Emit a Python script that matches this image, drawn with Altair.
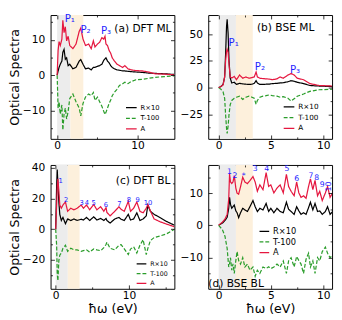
import json
import altair as alt
import pandas as pd

FONT = "DejaVu Sans"
W, H = 128, 128
NAMES = ["R×10", "T-100", "A"]
LINE_COLORS = ["#000000", "#2a9d2a", "#e5173f"]
DASHES = [[1, 0], [4, 2], [1, 0]]
BLUE = "#1f1fff"

BAND_NAMES = ["ir", "vis"]
BAND_LO = [0.0, 1.65]
BAND_HI = [1.65, 3.26]
BAND_COLORS = ["#ececec", "#fdf0dc"]

# ---------------- (a) DFT ML ----------------
E_a = [0.00, 0.12, 0.24, 0.39, 0.59, 0.71, 0.86, 1.02, 1.18, 1.37, 1.57, 1.96, 2.35, 2.75, 2.94,
       3.22, 3.53, 3.92, 4.24, 4.51, 4.71, 5.02, 5.29, 5.57, 5.80, 5.96, 6.08, 6.27, 6.47, 6.67,
       6.86, 7.14, 7.45, 7.76, 8.16, 8.43, 8.82, 9.22, 9.80, 10.59, 11.37, 12.16, 13.33, 14.59]
A_a = [0, 7, 9.5, 8.4, 10.2, 15.5, 12, 13.7, 9.7, 11, 8.4, 7.5, 8.8, 12.4, 13.3,
       10.2, 8.4, 8.8, 7.5, 9.7, 8, 8.8, 9.3, 10.6, 10.2, 11, 8.8, 8.4, 7, 6.2,
       4.9, 4, 3.1, 2.7, 2.2, 2.7, 1.8, 1.5, 1.3, 1.2, 0.9, 0.4, 0.3, 0.1]
R_a = [0, 1.2, 2.2, 3.1, 4, 6.5, 7.3, 4.5, 4.9, 2.7, 3.1, 1.8, 2.2, 4, 4.4,
       3.1, 1.8, 2, 1.5, 2.2, 2.2, 2.5, 2.7, 3.1, 4.2, 4.6, 4.9, 4, 3.5, 2.7,
       2.2, 1.8, 1.5, 1.4, 1.2, 1.2, 1.1, 1.0, 0.9, 0.8, 0.6, 0.5, 0.4, 0.2]
T_a = [0, -9.3, -7.5, -11, -8.4, -15.5, -11, -9.3, -12.4, -10.2, -6.6, -5.3, -7.5, -9.3, -11.5,
       -8, -6.2, -5.3, -5.8, -4.9, -7.1, -6.2, -7.5, -8.8, -10.2, -11.1, -10.5, -9.3, -8, -7,
       -5.8, -4.8, -4, -2.9, -2.4, -2, -2.4, -1.8, -1.3, -1.2, -0.9, -0.6, -0.4, -0.2]
PK_a_x = [1.57, 3.53, 6.08]
PK_a_y = [15.9, 12.7, 12.4]
PK_a_t = ["P₁", "P₂", "P₃"]

# ---------------- (b) BSE ML ----------------
E_b = [0, 0.21, 0.42, 0.57, 0.66, 0.75, 0.81, 0.90, 0.99, 1.10, 1.25, 1.49, 1.70, 2.00, 2.30,
       2.60, 2.90, 3.19, 3.40, 3.58, 3.70, 3.94, 4.24, 4.54, 4.84, 5.13, 5.58, 5.88, 6.18, 6.63,
       6.93, 7.22, 7.52, 8.12, 8.72, 9.61, 10.85]
R_b = [0, 1, 3, 10, 31, 57, 64, 51, 25, 9, 4.4, 5, 3, 4, 3.5,
       3.2, 3, 3.2, 4, 6.5, 4.4, 3, 3, 3.2, 3.2, 3.8, 4, 4.4, 4.6, 5.5,
       6.5, 6, 5, 3.8, 2, 1.5, 1]
A_b = [0, 1, 2.5, 10, 25, 34, 36, 33, 22, 10, 9, 10.5, 7.4, 11.8, 8.8,
       10, 8.8, 9.4, 10, 14.7, 10, 8.8, 8.5, 8.2, 8, 7.4, 8.2, 10, 8.8, 11.8,
       13.2, 11.8, 8.8, 7.4, 3.8, 2, 1.5]
T_b = [0, -1.5, -4, -10, -25, -38, -43, -36, -25, -16, -12, -10, -9, -8, -11,
       -9, -8, -9, -10, -15.6, -12, -9, -8, -7.5, -6.8, -7.5, -8, -9, -8.5, -10,
       -12.6, -10.5, -8, -6, -3.5, -2, -1.5]
PK_b_x = [1.43, 3.94, 7.31]
PK_b_y = [41.8, 19.7, 16.8]
PK_b_t = ["P₁", "P₂", "P₃"]

# ---------------- (c) DFT BL ----------------
E_c = [0, 0.13, 0.21, 0.30, 0.43, 0.56, 0.77, 0.99, 1.33, 1.63, 2.06, 2.49, 2.92, 3.48, 3.78,
       4.21, 4.64, 5.19, 5.62, 6.14, 6.57, 6.87, 6.99, 7.42, 8.07, 8.63, 8.93, 9.36, 9.91, 10.21,
       10.64, 11.07, 11.50, 11.93, 12.36, 12.58, 12.92, 13.43, 14.29, 15.15, 16.2]
R_c = [0, 28, 39, 30, 18, 9.7, 5.7, 7.7, 3.6, 6.7, 5.7, 6.7, 5.7, 6.5, 6,
       7.7, 5.7, 8.1, 6, 7, 5.7, 7, 5.7, 4, 6.7, 7.7, 6.5, 5.7, 9.7, 6,
       6.7, 10.7, 5.7, 6.7, 8.7, 15.8, 11.7, 9.7, 7.5, 5, 2.6]
A_c = [0, 15.8, 28, 33, 25, 15.8, 13.7, 15.8, 17.8, 11.7, 13.7, 12.7, 13.7, 15.8, 13.7,
       15.8, 12.7, 16.2, 12.7, 14.7, 11.7, 14.1, 11, 8.7, 11.7, 14.7, 13, 11.7, 18.2, 11.7,
       13.7, 17.8, 11.7, 10.7, 13.7, 16.2, 12, 6.7, 4.8, 3.3, 1.6]
T_c = [0, -10.5, -28.7, -33.7, -20.6, -17, -15.6, -12.5, -10.5, -14.5, -12.5, -13.5, -13.5, -14.5, -14,
       -13.5, -15, -12.9, -13.5, -14.1, -12.1, -10, -8.5, -12.5, -13.5, -10.5, -10.1, -12.9, -16.6, -13,
       -11.5, -15.6, -10.5, -6.9, -16.6, -12.5, -7.5, -5.5, -4.4, -3, 0]
PK_c_x = [0.69, 1.42, 3.56, 4.25, 5.19, 6.87, 8.71, 10.0, 11.2, 12.6]
PK_c_y = [31.5, 18.8, 16.8, 16.8, 16.8, 15.8, 16.2, 18.8, 18.8, 17.4]
PK_c_t = ["1", "2", "3", "4", "5", "6", "7", "8", "9", "10"]

# ---------------- (d) BSE BL ----------------
E_d = [0, 0.36, 0.60, 0.81, 0.96, 1.04, 1.13, 1.25, 1.37, 1.49, 1.64, 1.76, 1.91, 2.09, 2.30,
       2.51, 2.75, 2.99, 3.28, 3.49, 3.70, 3.94, 4.24, 4.54, 4.78, 4.99, 5.28, 5.58, 5.88, 6.18,
       6.48, 6.69, 6.93, 7.22, 7.46, 7.67, 7.88, 8.12, 8.36, 8.60, 8.78, 9.01, 9.22, 9.46, 9.67,
       9.91, 10.21, 10.42, 10.66, 10.9]
R_d = [0, 0.7, 1.5, 2.5, 5.3, 8.7, 6.5, 5.3, 5.8, 6.3, 4.5, 3.9, 2.4, 3.9, 5.3,
       4.8, 4.3, 5.8, 7.7, 5.8, 4.3, 5.3, 4.8, 6.8, 4.3, 5.3, 3.9, 5.3, 4.3, 3.9,
       7.2, 5, 4.3, 3.4, 5.8, 4.5, 3.4, 3.9, 3.4, 5.5, 7.2, 4.8, 6.8, 4.3, 4.5,
       3.4, 4.3, 5.8, 3.4, 4.3]
A_d = [0, 1.0, 1.9, 3.4, 8.2, 16, 13.5, 13, 13.5, 15.5, 11.6, 10, 9.7, 12, 15,
       13.5, 13, 13.9, 15.2, 13.5, 10.6, 12.6, 11.1, 16.4, 12.1, 12.6, 10.1, 11.6, 12.6, 10.1,
       15.9, 12.1, 10.6, 9.2, 13.5, 10.1, 8.7, 9.2, 8.4, 12.1, 14.5, 11.1, 14, 9.2, 10.6,
       7.7, 10.1, 12.1, 8.7, 10.1]
T_d = [0, -1.4, -3.4, -7.2, -13, -12, -10.1, -14, -12, -15, -11, -8.2, -11, -12.1, -10.1,
       -13, -12.1, -14, -13, -15.9, -14, -15, -13, -13.5, -12.9, -13.5, -13, -12.1, -13, -11.1,
       -15, -11.1, -10.1, -13, -9.7, -11, -12.1, -15, -10.6, -8.7, -13, -11.1, -15, -10.1, -11.1,
       -8.2, -6.8, -8.7, -10.1, -9.2]
PK_d_x = [1.04, 1.55, 2.39, 3.49, 4.6, 6.54, 7.46, 8.84, 9.37, 9.91, 10.57]
PK_d_y = [16.7, 15.2, 15.3, 17.4, 17.6, 17.4, 14.5, 15.3, 14.8, 12.6, 12.1]
PK_d_t = ["1", "2", "*", "3", "4", "5", "6", "7", "8", "9", "10"]
PK_d_a = [0, 0, 0, 0, 0, 0, 0, 0, 0, 0, 270]

band_df = pd.DataFrame({"band": BAND_NAMES, "b0": BAND_LO, "b1": BAND_HI})


def mk_axis(orient, majors, minors, labels, title=None, pad=1, tpad=2):
    maj = json.dumps(majors)
    kw = dict(
        orient=orient, values=sorted(majors + minors), offset=-4, tickSize=4,
        tickWidth=0.8, tickColor="black", domain=False, grid=False, zindex=1,
        labels=labels, format="d",
        labelExpr=f"indexof({maj}, datum.value) >= 0 ? datum.label : ''",
        tickDash={"condition": {"test": f"indexof({maj}, datum.value) < 0", "value": [0, 2, 2]},
                  "value": [4, 0]},
        labelFont=FONT, labelFontSize=11, labelColor="black", labelOverlap=False,
        labelPadding=pad,
    )
    if title:
        kw.update(title=title, titleFont=FONT, titleFontSize=13, titleFontWeight="normal",
                  titleColor="black", titlePadding=tpad)
    else:
        kw["title"] = None
    return alt.Axis(**kw)


def panel(E, R, T, A, xdom, ydom, xmaj, xmin, ymaj, ymin, pk, pk_size, title, tx, ty, talign,
          leg, first_col, last_row):
    n = len(E)
    df = pd.DataFrame({"E": list(E) * 3, "v": list(R) + list(T) + list(A),
                       "s": [NAMES[0]] * n + [NAMES[1]] * n + [NAMES[2]] * n,
                       "o": [0] * n + [1] * n + [2] * n})
    xs = alt.Scale(domain=xdom, nice=False, zero=False)
    ys = alt.Scale(domain=ydom, nice=False, zero=False)

    bands = alt.Chart(band_df).mark_rect().encode(
        x=alt.X("b0:Q", scale=xs,
                axis=mk_axis("bottom", xmaj, xmin, True, "ħω (eV)" if last_row else None, pad=1, tpad=2)),
        x2="b1:Q",
        y=alt.value(0), y2=alt.value(H),
        fill=alt.Fill("band:N", scale=alt.Scale(domain=BAND_NAMES, range=BAND_COLORS), legend=None),
    )

    lx, ly, lfs, lrow, lsym = leg
    legend = alt.Legend(title=None, orient="none", legendX=lx, legendY=ly, direction="vertical",
                        symbolType="stroke", symbolSize=lsym * lsym, symbolStrokeWidth=1.3,
                        labelFont=FONT, labelFontSize=lfs, labelColor="black", rowPadding=2,
                        clipHeight=lrow - 2, padding=0, labelOffset=3)
    lines = alt.Chart(df).mark_line(clip=True, strokeWidth=1.25).encode(
        x=alt.X("E:Q", scale=xs, axis=mk_axis("top", xmaj, xmin, False)),
        y=alt.Y("v:Q", scale=ys, axis=mk_axis("right", ymaj, ymin, False)),
        color=alt.Color("s:N", scale=alt.Scale(domain=NAMES, range=LINE_COLORS), legend=legend),
        strokeDash=alt.StrokeDash("s:N", scale=alt.Scale(domain=NAMES, range=DASHES), legend=legend),
        order="o:Q",
        detail="s:N",
    )

    pkx, pky, pkt, pka = pk
    pk_df = pd.DataFrame({"x": pkx, "y": pky, "t": pkt, "ang": pka})
    peaks = alt.Chart(pk_df).mark_text(font=FONT, fontSize=pk_size, color=BLUE).encode(
        x=alt.X("x:Q", scale=xs, axis=None),
        y=alt.Y("y:Q", scale=ys,
                axis=mk_axis("left", ymaj, ymin, True, "Optical Spectra" if first_col else None,
                             pad=6, tpad=1)),
        text="t:N",
        angle=alt.Angle("ang:Q", scale=None),
    )

    ttl = alt.Chart(pd.DataFrame({"t": [title]})).mark_text(
        font=FONT, fontSize=11, color="black", align=talign, baseline="middle"
    ).encode(text="t:N", x=alt.value(tx), y=alt.value(ty))

    return alt.layer(bands, lines, peaks, ttl).resolve_axis(x="independent", y="independent").properties(
        width=W, height=H)


pa = panel(E_a, R_a, T_a, A_a, [-0.82, 14.6], [-18, 17], [0, 10], [5], [-10, 0, 10], [-15, -5, 5, 15],
           (PK_a_x, PK_a_y, PK_a_t, [0] * 3), 10.5, "(a) DFT ML", W - 3, 14.5, "right",
           (77, 92, 7, 9.4, 11), True, False)
pb = panel(E_b, R_b, T_b, A_b, [-1.0, 10.85], [-48, 68], [0, 5, 10], [2.5, 7.5], [-25, 0, 25, 50],
           [-37.5, -12.5, 12.5, 37.5, 62.5],
           (PK_b_x, PK_b_y, PK_b_t, [0] * 3), 10.5, "(b) BSE ML", 80, 13, "center",
           (77, 90.7, 7.5, 10.7, 11), False, False)
pc = panel(E_c, R_c, T_c, A_c, [-0.7, 16.2], [-39, 42], [0, 10], [5, 15], [-20, 0, 20, 40],
           [-30, -10, 10, 30],
           (PK_c_x, PK_c_y, PK_c_t, [0] * 10), 7, "(c) DFT BL", W - 4, 16.5, "right",
           (88, 98.6, 6.5, 9.4, 10), True, True)
pd_ = panel(E_d, R_d, T_d, A_d, [-1.0, 10.85], [-19.8, 18.8], [0, 5, 10], [2.5, 7.5], [-10, 0, 10],
            [-15, -5, 5, 15],
            (PK_d_x, PK_d_y, PK_d_t, PK_d_a), 8, "(d) BSE BL", 0, 123.5, "left",
            (52, 64.3, 8.5, 10.5, 10), False, True)

chart = alt.concat(pa, pb, pc, pd_, columns=2, spacing={"row": 10, "column": 4}).resolve_scale(
    color="independent", strokeDash="independent", fill="independent"
).resolve_legend(color="independent", strokeDash="independent").configure_view(
    stroke="black", strokeWidth=1
).properties(padding=0, background="white")

chart.save("out.html", embed_options={"renderer": "svg", "actions": False})
